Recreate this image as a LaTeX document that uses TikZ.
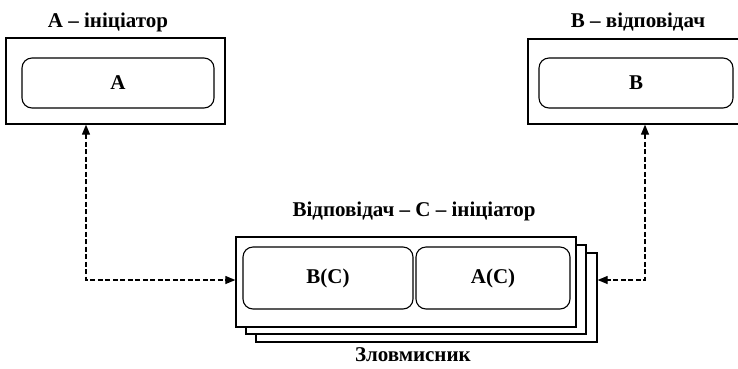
\documentclass[tikz,border=0pt]{standalone}
\usepackage{fontspec}
\setmainfont{Liberation Serif}
\usetikzlibrary{arrows.meta}
\begin{document}
\begin{tikzpicture}[x=1pt,y=-1pt,
  outerbox/.style={draw,line width=1.3pt,fill=white,inner sep=0pt},
  innerbox/.style={draw,line width=1.1pt,rounded corners=10pt,inner sep=0pt,font=\fontsize{21}{25}\selectfont\bfseries},
  lbl/.style={font=\fontsize{21}{25}\selectfont\bfseries,inner sep=0pt},
  link/.style={line width=1.2pt,dash pattern=on 5pt off 2.5pt,{Triangle[length=10pt,width=8pt]}-{Triangle[length=10pt,width=8pt]}}]
\useasboundingbox (0,0) rectangle (738,368);
% top boxes
\node[outerbox,minimum width=219pt,minimum height=86pt] (boxA) at (115.5,81) {};
\node[innerbox,minimum width=192pt,minimum height=50pt] (A) at (118,83) {A};
\node[outerbox,minimum width=217pt,minimum height=85pt] (boxB) at (636.5,81.5) {};
\node[innerbox,minimum width=194pt,minimum height=50pt] (B) at (636,83) {B};
\node[lbl] (lA) at (108,22) {A – ініціатор};
\node[lbl] (lB) at (638,22) {B – відповідач};
% attacker stack
\node[outerbox,minimum width=341pt,minimum height=89pt] (c3) at (426.5,297.5) {};
\node[outerbox,minimum width=340pt,minimum height=89pt] (c2) at (416,289.5) {};
\node[outerbox,minimum width=340pt,minimum height=90pt] (c1) at (406,282) {};
\node[innerbox,minimum width=170pt,minimum height=62pt] (BC) at (328,278) {B(C)};
\node[innerbox,minimum width=154pt,minimum height=62pt] (AC) at (493,278) {A(C)};
\node[lbl] (lC) at (414,211) {Відповідач – С – ініціатор};
\node[lbl] (lZ) at (413,355) {Зловмисник};
% links
\coordinate (ka) at (86,280);
\coordinate (kb) at (645,280);
\draw[link] (boxA.south -| ka) -- (ka) -- (ka -| c1.west);
\draw[link] (boxB.south -| kb) -- (kb) -- (kb -| c3.east);
\end{tikzpicture}
\end{document}
